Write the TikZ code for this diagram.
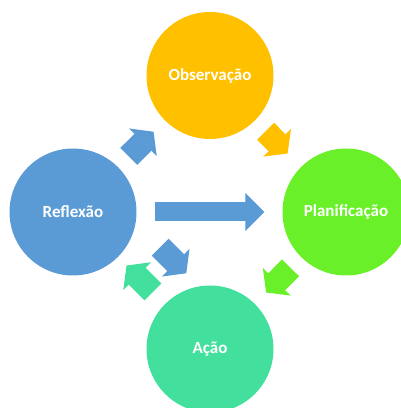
\documentclass[tikz,border=0pt]{standalone}
\usepackage{fontspec}
\setmainfont{Carlito}
\usetikzlibrary{arrows.meta, calc}
\definecolor{cycleBlue}{RGB}{91, 155, 213}
\definecolor{cycleOrange}{RGB}{255, 192, 0}
\definecolor{cycleGreen}{RGB}{106, 240, 40}
\definecolor{cycleTeal}{RGB}{66, 224, 156}

\begin{document}
\begin{tikzpicture}[
    x=1pt, y=1pt,
    % Cycle Stage Circle
    stage/.style={
        circle,
        minimum size=127pt,
        inner sep=0pt,
        align=center,
        text=white,
        font=\fontsize{17}{20}\selectfont\bfseries
    },
    % Block Arrow Connection
    flow/.style={
        line width=24pt,
        -{Triangle[width=39pt, length=15pt, line width=1.2pt]},
        shorten <=15pt,
        shorten >=16pt
    }
]

    \clip (0,0) rectangle (401,408);
    \useasboundingbox (0,0) rectangle (401,408);

    % Stages of the cycle
    \node (observacao) [stage, fill=cycleOrange] at (210,332.5) {Observação};
    \node (reflexao) [stage, fill=cycleBlue] at (73,196) {Reflexão};
    \node (planificacao) [stage, fill=cycleGreen] at (346,196) {Planificação};
    \node (acao) [stage, fill=cycleTeal] at (210,59) {Ação};

    % Free ends of the offset arrow
    \coordinate (turnTail) at ($(reflexao)!0.447!(acao)+(26,26)$);
    \coordinate (turnTip) at ($(reflexao)!0.637!(acao)+(26,26)$);

    % Block Arrows
    \draw [flow, cycleBlue] (reflexao) -- (observacao);
    \draw [flow, cycleOrange, shorten >=19pt] (observacao) -- (planificacao);
    \draw [flow, cycleGreen] (planificacao) -- (acao);
    \draw [flow, cycleTeal, shorten <=17pt, shorten >=12pt] (acao) -- (reflexao);
    \draw [flow, cycleBlue, shorten <=0pt, shorten >=0pt] (turnTail) -- (turnTip);
    \draw [flow, cycleBlue, line width=19pt,
        -{Triangle[width=38pt, length=19pt, line width=1.2pt]},
        shorten <=18pt, shorten >=18pt] (reflexao) -- (planificacao);

\end{tikzpicture}
\end{document}
